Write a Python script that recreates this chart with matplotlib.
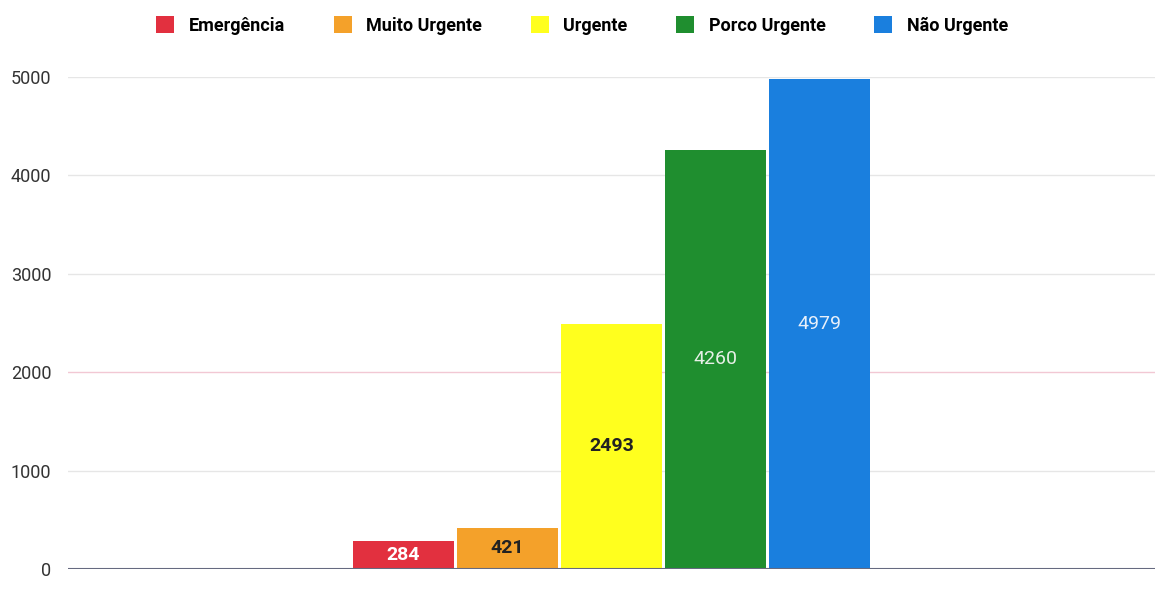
import matplotlib
matplotlib.use("Agg")
import matplotlib.pyplot as plt
from matplotlib import font_manager

categories = ["Emergência", "Muito Urgente", "Urgente", "Porco Urgente", "Não Urgente"]
values = [284, 421, 2493, 4260, 4979]
colors = ["#E2303F", "#F4A12A", "#FFFF1E", "#1F8E2F", "#1A7FDE"]
label_colors = ["white", "#222222", "#222222", "#E8F0E8", "#E8F0FA"]
label_weights = ["bold", "bold", "bold", "normal", "normal"]
yticks = [0, 1000, 2000, 3000, 4000, 5000]

avail = {f.name for f in font_manager.fontManager.ttflist}
narrow = "Liberation Sans Narrow" if "Liberation Sans Narrow" in avail else "Roboto"
plt.rcParams["font.family"] = [narrow, "DejaVu Sans"]

fig = plt.figure(figsize=(11.69, 6.10), dpi=100)
ax = fig.add_axes([0.058, 0.0672, 0.930, 0.8066])

bars = []
for i, (c, v, col) in enumerate(zip(categories, values, colors)):
    b = ax.bar(i, v, width=0.97, color=col, label=c, zorder=3)
    bars.append(b[0])
    ax.text(i, v / 2, str(v), ha="center", va="center", fontsize=14,
            color=label_colors[i], fontweight=label_weights[i], zorder=4)

center = (len(values) - 1) / 2
ax.set_xlim(center - 5.226, center + 5.226)
ax.set_ylim(0, 5000)
ax.set_yticks(yticks)
ax.set_yticklabels([str(t) for t in yticks], fontsize=13, color="#333333")
ax.set_xticks([])
for t in yticks[1:]:
    col = "#F2C8D4" if t == 2000 else "#E6E6E6"
    ax.axhline(t, color=col, lw=1, zorder=1)
ax.axhline(0, color="#666A80", lw=1.5, zorder=5)
for s in ax.spines.values():
    s.set_visible(False)
ax.tick_params(axis="y", length=0, pad=12)

fig.legend(handles=bars, labels=categories, loc="center", bbox_to_anchor=(0.498, 0.958),
           ncol=5, frameon=False, handlelength=1.0, handleheight=1.0,
           columnspacing=2.7, handletextpad=0.8, prop={"weight": "bold", "size": 13})

fig.savefig("out.png", dpi=100, facecolor="white")
